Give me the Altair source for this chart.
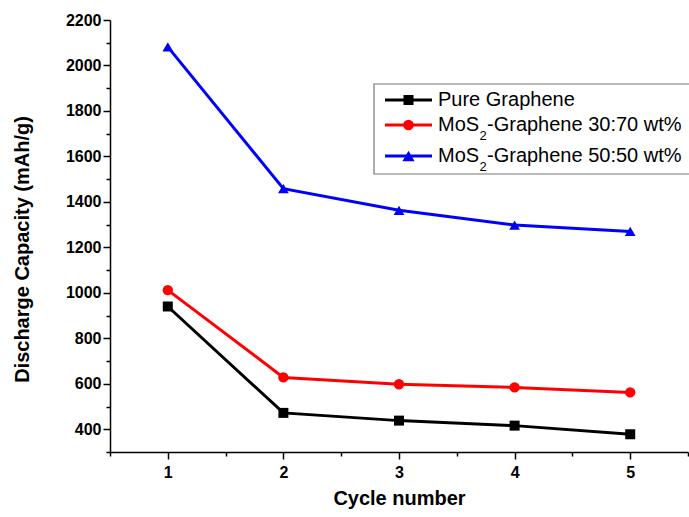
import altair as alt
import pandas as pd

# ---- data ----
cycles = [1, 2, 3, 4, 5]
pure_graphene = [940, 472, 438, 416, 378]
mos2_30_70 = [1012, 628, 598, 584, 562]
mos2_50_50 = [2082, 1458, 1363, 1298, 1270]

series_names = ["Pure Graphene", "MoS2-Graphene 30:70 wt%", "MoS2-Graphene 50:50 wt%"]
legend_main = ["Pure Graphene", "MoS", "MoS"]
legend_sub = ["", "2", "2"]
legend_rest = ["", "-Graphene 30:70 wt%", "-Graphene 50:50 wt%"]

colors = ["#000000", "#ff0000", "#0000ff"]
shapes = ["square", "circle", "triangle-up"]
sizes = [100, 115, 150]

y_tick_values = list(range(300, 2201, 100))
x_tick_values = [0.5, 1, 1.5, 2, 2.5, 3, 3.5, 4, 4.5, 5, 5.5]

FONT = "Liberation Sans"

rows = []
for name, vals in zip(series_names, [pure_graphene, mos2_30_70, mos2_50_50]):
    for c, v in zip(cycles, vals):
        rows.append({"series": name, "cycle": c, "capacity": v})
df = pd.DataFrame(rows)

x_enc = alt.X(
    "cycle:Q",
    scale=alt.Scale(domain=[0.5, 5.5], nice=False, zero=False),
    axis=alt.Axis(
        title="Cycle number",
        values=x_tick_values,
        labelExpr="datum.value % 1 === 0 ? '' + datum.value : ''",
        tickSize={"condition": {"test": "datum.value % 1 === 0", "value": 7}, "value": 4},
        labelPadding=5,
        titleY=46,
        titleBaseline="middle",
    ),
)
y_enc = alt.Y(
    "capacity:Q",
    scale=alt.Scale(domain=[300, 2200], nice=False, zero=False),
    axis=alt.Axis(
        title="Discharge Capacity (mAh/g)",
        values=y_tick_values,
        labelExpr="datum.value % 200 === 0 ? '' + datum.value : ''",
        tickSize={"condition": {"test": "datum.value % 200 === 0", "value": 7}, "value": 4},
        labelPadding=2,
        titleX=-88,
        titleY=229,
        titleBaseline="middle",
    ),
)
color_enc = alt.Color("series:N", scale=alt.Scale(domain=series_names, range=colors), legend=None)
shape_enc = alt.Shape("series:N", scale=alt.Scale(domain=series_names, range=shapes), legend=None)
size_enc = alt.Size("series:N", scale=alt.Scale(domain=series_names, range=sizes), legend=None)

base = alt.Chart(df)
lines = base.mark_line(strokeWidth=3).encode(x=x_enc, y=y_enc, color=color_enc, detail="series:N")
points = base.mark_point(filled=True, opacity=1).encode(
    x=x_enc, y=y_enc, color=color_enc, shape=shape_enc, size=size_enc
)

# ---- manual legend (line + marker + text, MoS with subscript 2) ----
box_df = pd.DataFrame({"k": [0]})
legend_box = alt.Chart(box_df).mark_rect(fill="white", stroke="#777777", strokeWidth=1.2).encode(
    x=alt.value(264), x2=alt.value(620), y=alt.value(64), y2=alt.value(154)
)

row_y = [80, 105, 136]
legend_layers = [legend_box]
for i in range(3):
    ldf = pd.DataFrame({"main": [legend_main[i]], "sub": [legend_sub[i]], "rest": [legend_rest[i]]})
    lc = alt.Chart(ldf)
    y = row_y[i]
    legend_layers.append(
        lc.mark_rule(strokeWidth=3, color=colors[i]).encode(
            x=alt.value(275), x2=alt.value(322), y=alt.value(y)
        )
    )
    legend_layers.append(
        lc.mark_point(filled=True, opacity=1, shape=shapes[i], size=sizes[i], color=colors[i]).encode(
            x=alt.value(298.5), y=alt.value(y)
        )
    )
    legend_layers.append(
        lc.mark_text(align="left", baseline="middle", font=FONT, fontSize=20, color="black").encode(
            x=alt.value(328), y=alt.value(y), text="main:N"
        )
    )
    if legend_sub[i]:
        legend_layers.append(
            lc.mark_text(align="left", baseline="middle", font=FONT, fontSize=13, color="black").encode(
                x=alt.value(369.5), y=alt.value(y + 11), text="sub:N"
            )
        )
        legend_layers.append(
            lc.mark_text(align="left", baseline="middle", font=FONT, fontSize=20, color="black").encode(
                x=alt.value(377), y=alt.value(y), text="rest:N"
            )
        )

chart = alt.layer(lines, points, *legend_layers).properties(
    width=578,
    height=432,
    autosize="none",
    padding={"left": 110, "top": 20, "right": 1, "bottom": 65},
    background="white",
).configure_view(stroke=None).configure_axis(
    grid=False,
    domainColor="black",
    domainWidth=1.5,
    tickColor="black",
    tickWidth=1.5,
    labelFont=FONT,
    labelFontSize=16,
    labelFontWeight="bold",
    labelColor="black",
    titleFont=FONT,
    titleFontSize=20,
    titleFontWeight="bold",
    titleColor="black",
)

chart.save("out.html", embed_options={"renderer": "svg", "actions": False})
